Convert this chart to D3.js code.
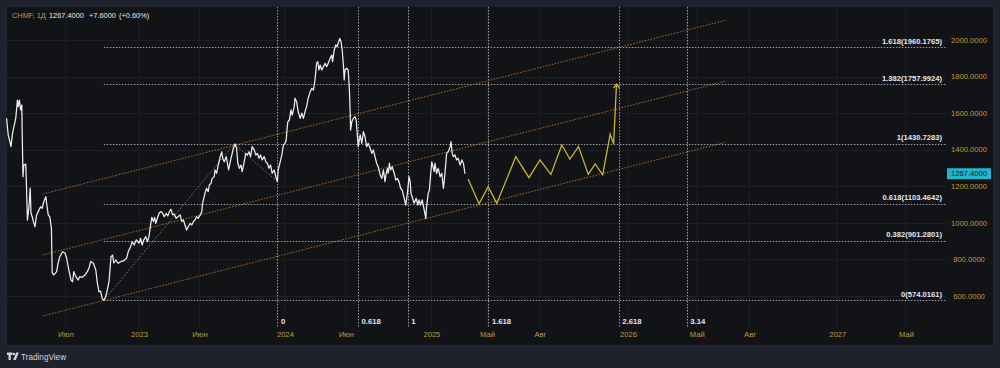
<!DOCTYPE html>
<html><head><meta charset="utf-8">
<script src="https://cdn.jsdelivr.net/npm/d3@7"></script>
<style>
html,body{margin:0;padding:0;background:#1e222d;overflow:hidden;}
svg{display:block;font-family:"Liberation Sans",Arial,sans-serif;}
</style></head><body><svg id="c" width="1000" height="368"></svg>
<script>
// ---------------- DATA ----------------
const ticker = "CHMF, 1Д";
const lastPrice = 1267.4;
const lastChange = 7.6;
const lastChangePct = 0.60;

const baseDate = "2023-01-01"; // price days are offsets (calendar days) from this date
const priceDays = [-331,-327,-320,-316,-310,-308,-304,-302,-299,-296,
-293,-292,-290,-288,-283,-281,-279,-275,-272,-270,
-267,-264,-260,-256,-252,-246,-242,-238,-233,-231,
-227,-223,-219,-217,-213,-206,-202,-198,-191,-185,
-181,-177,-170,-166,-163,-158,-152,-148,-142,-135,
-129,-124,-121,-114,-108,-104,-100,-96,-92,-88,
-85,-81,-75,-70,-66,-63,-58,-52,-46,-39,
-31,-27,-21,-17,-12,-7,-3,0,4,8,
12,17,21,25,29,32,36,39,42,47,
51,55,59,63,68,72,76,80,84,88,
93,97,103,107,111,115,119,123,128,132,
136,140,144,148,153,157,159,163,166,169,
173,176,180,183,188,190,194,198,203,207,
209,213,218,221,224,228,232,236,240,244,
247,251,255,258,263,267,271,275,279,283,
288,292,296,300,304,308,313,317,321,325,
329,333,338,342,346,348,353,357,361,365,
368,370,372,376,380,383,388,390,394,398,
403,407,411,415,419,423,428,432,436,440,
444,447,450,453,457,461,465,469,473,478,
482,484,488,492,495,498,502,505,508,511,
513,515,519,523,526,528,529,532,536,540,
543,548,553,557,561,565,569,573,578,582,
586,590,594,598,603,607,611,615,618,621,
623,626,629,633,638,642,646,650,654,658,
663,667,671,675,678,680,684,688,693,697,
700,704,708,713,717,719,723,726,729,732,
734,738,740,744,748,753,757,761,763,767,
769,773,778,780,783,786,790,794,798,803,
807,811,815];
const priceValues = [1571,1480,1416,1491,1552,1573,1671,1635,1671,1617,
1644,1491,1251,1315,1320,1178,1014,1087,1189,1052,
1032,1005,977,1042,1060,1087,1078,1114,1142,1107,
1042,1032,970,724,713,731,779,813,840,833,
806,758,685,676,731,704,685,704,700,713,
731,758,786,777,740,667,621,625,585,574,
585,613,676,813,822,779,795,777,786,790,
804,840,868,895,877,905,895,887,914,877,
905,923,895,923,987,1029,1005,1029,996,1032,
1054,1060,1051,1032,1051,1036,1060,1073,1042,1047,
1023,1032,1042,1005,1014,987,959,977,996,987,
1005,1014,1032,1023,1042,1060,1106,1142,1169,1188,
1169,1206,1215,1242,1251,1288,1270,1315,1361,1388,
1352,1333,1361,1325,1288,1333,1370,1407,1431,1407,
1325,1297,1315,1279,1333,1379,1370,1388,1361,1416,
1398,1370,1379,1352,1370,1343,1361,1333,1325,1297,
1315,1270,1288,1251,1224,1288,1333,1370,1425,1434,
1452,1507,1552,1562,1617,1589,1635,1681,1662,1607,
1571,1599,1571,1607,1635,1681,1717,1735,1726,1781,
1872,1881,1836,1863,1836,1854,1872,1854,1872,1900,
1918,1881,1945,1973,1963,1982,2009,1991,1945,1863,
1781,1836,1845,1836,1726,1599,1507,1552,1571,1580,
1562,1416,1480,1434,1498,1470,1416,1434,1407,1379,
1398,1361,1325,1306,1261,1242,1288,1224,1270,1297,
1270,1325,1288,1306,1270,1233,1242,1224,1188,1178,
1133,1096,1160,1251,1224,1160,1133,1106,1133,1096,
1124,1096,1124,1069,1023,1087,1160,1178,1261,1333,
1315,1279,1325,1270,1297,1251,1270,1188,1224,1325,
1379,1388,1416,1443,1379,1361,1370,1343,1352,1315,
1343,1325,1267.4];

// projected path (yellow)
const projDates = ["2025-03-31","2025-04-18","2025-05-03","2025-05-18","2025-06-20","2025-07-13","2025-08-01","2025-08-20","2025-09-08","2025-09-22","2025-10-07","2025-10-24","2025-11-05","2025-11-18","2025-12-01","2025-12-07","2025-12-12"];
const projValues = [1239,1103,1197,1105,1361,1246,1343,1264,1425,1348,1416,1264,1321,1261,1485,1430,1758];

// axes
const priceTicks = [600,800,1000,1200,1400,1600,1800,2000];
const timeTickDates = ["2022-07-01","2023-01-01","2023-06-01","2024-01-01","2024-06-01","2025-01-01","2025-05-01","2025-08-01","2026-01-01","2026-05-01","2026-08-01","2027-01-01","2027-05-01"];
const timeTickLabels = ["Июл","2023","Июн","2024","Июн","2025","Май","Авг","2026","Май","Авг","2027","Май"];

// fib retracement
const fibLevels = [0,0.382,0.618,1,1.382,1.618];
const fibPrices = [574.0161,901.2801,1103.4642,1430.7283,1757.9924,1960.1765];

// trend-based fib time (A low, B high, C pullback)
const fibAnchorDates = ["2022-10-05","2023-08-27","2023-12-13"];
const fibAnchorPrices = [574.0161,1430.7283,1224];
const fibTimeRatios = [0,0.618,1,1.618,2.618,3.14];
const fibTimeLabels = ["0","0.618","1","1.618","2.618","3.14"];

// parallel channel
const channelDates = ["2022-05-06","2026-06-22"];
const channelUpper = [1156.6,2109.5];
const channelMiddle = [822.6,1775.5];
const channelLower = [488.5,1441.4];

// ---------------- DRAW ----------------
const parse = d3.utcParse("%Y-%m-%d");
const base = parse(baseDate);
const svg = d3.select("#c");
const W = 1000, H = 368;
const panel = {l:7, t:7, r:993, b:345};
const plotR = 947, plotB = 328;

const x = d3.scaleUtc()
  .domain(["2023-01-01","2025-03-26","2025-05-01","2026-01-01","2027-05-01"].map(parse))
  .range([139,465,487,628,906]);
const y = d3.scaleLinear().domain([600,2000]).range([295.6,40]);

svg.append("rect").attr("width",W).attr("height",H).attr("fill","#1e222d");
svg.append("rect").attr("x",panel.l).attr("y",panel.t).attr("width",panel.r-panel.l).attr("height",panel.b-panel.t).attr("fill","#111317");

const gridC = "#1c1f26";
svg.append("g").selectAll("line").data(timeTickDates).join("line")
  .attr("x1",d=>x(parse(d))).attr("x2",d=>x(parse(d)))
  .attr("y1",panel.t).attr("y2",plotB).attr("stroke",gridC).attr("stroke-width",1);
svg.append("g").selectAll("line").data(priceTicks).join("line")
  .attr("x1",panel.l).attr("x2",plotR)
  .attr("y1",d=>Math.round(y(d))+0.5).attr("y2",d=>Math.round(y(d))+0.5).attr("stroke",gridC).attr("stroke-width",1);

const gold = "#c29a37";
const yAxis = d3.axisRight(y).tickValues(priceTicks).tickFormat(d3.format(".4f")).tickSize(0).tickPadding(0);
const ya = svg.append("g").attr("transform",`translate(969,0)`).call(yAxis);
ya.select(".domain").remove();
ya.selectAll("text").attr("fill",gold).attr("font-size",7.6).attr("text-anchor","middle").attr("font-family","Liberation Sans, Arial, sans-serif");

const xAxis = d3.axisBottom(x).tickValues(timeTickDates.map(parse)).tickFormat((d,i)=>timeTickLabels[i]).tickSize(0).tickPadding(0);
const xa = svg.append("g").attr("transform",`translate(0,332)`).call(xAxis);
xa.select(".domain").remove();
xa.selectAll("text").attr("fill",gold).attr("font-size",7.6).attr("font-family","Liberation Sans, Arial, sans-serif");

// fib time zones
const xA = x(parse(fibAnchorDates[0])), xB = x(parse(fibAnchorDates[1])), xC = x(parse(fibAnchorDates[2]));
const ftx = r => xC + r*(xB - xA);
const fz = svg.append("g");
fz.selectAll("line").data(fibTimeRatios).join("line")
  .attr("x1",d=>Math.round(ftx(d))+0.5).attr("x2",d=>Math.round(ftx(d))+0.5)
  .attr("y1",panel.t).attr("y2",327)
  .attr("stroke","#9a9ca3").attr("stroke-width",1).attr("stroke-dasharray","1.5,1.5");
fz.selectAll("text").data(fibTimeRatios).join("text")
  .attr("x",d=>ftx(d)+3.5).attr("y",323.5)
  .attr("fill","#e6e7ea").attr("font-size",7.7).attr("font-weight","bold")
  .text((d,i)=>fibTimeLabels[i]);

// fib retracement levels
const fr = svg.append("g");
fr.selectAll("line").data(fibPrices).join("line")
  .attr("x1",xA).attr("x2",plotR)
  .attr("y1",d=>Math.round(y(d))+0.5).attr("y2",d=>Math.round(y(d))+0.5)
  .attr("stroke","#9a9ca3").attr("stroke-width",1).attr("stroke-dasharray","1.5,1.5");
fr.selectAll("text").data(fibPrices).join("text")
  .attr("x",942).attr("y",d=>y(d)-3.5).attr("text-anchor","end")
  .attr("fill","#e6e7ea").attr("font-size",7.6).attr("font-weight","bold")
  .text((d,i)=>`${fibLevels[i]}(${d3.format(".4f")(d)})`);

// anchor connectors
svg.append("path")
  .attr("d", d3.line()(fibAnchorDates.map((d,i)=>[x(parse(d)), y(fibAnchorPrices[i])])))
  .attr("fill","none").attr("stroke","#8a8d94").attr("stroke-width",0.8).attr("stroke-dasharray","2,1.5").attr("opacity",0.85);

// channel
const ch = svg.append("g");
[channelUpper, channelMiddle, channelLower].forEach(vals=>{
  ch.append("line")
    .attr("x1",x(parse(channelDates[0]))).attr("y1",y(vals[0]))
    .attr("x2",x(parse(channelDates[1]))).attr("y2",y(vals[1]))
    .attr("stroke","#b5691f").attr("stroke-width",1).attr("stroke-dasharray","1.5,1.5");
});

// price line
const pts = priceDays.map((d,i)=>[d3.utcDay.offset(base,d), priceValues[i]]);
svg.append("path")
  .attr("d", d3.line().x(d=>x(d[0])).y(d=>y(d[1]))(pts))
  .attr("fill","none").attr("stroke","#eeeeee").attr("stroke-width",1.25).attr("stroke-linejoin","round");

// projection
const ppts = projDates.map((d,i)=>[parse(d), projValues[i]]);
svg.append("path")
  .attr("d", d3.line().x(d=>x(d[0])).y(d=>y(d[1]))(ppts))
  .attr("fill","none").attr("stroke","#c9b42c").attr("stroke-width",1.3).attr("stroke-linejoin","miter");
const tip = ppts[ppts.length-1];
const tx = x(tip[0]), ty = y(tip[1]);
svg.append("path")
  .attr("d",`M${tx-3},${ty+4}L${tx},${ty}L${tx+3},${ty+4}`)
  .attr("fill","none").attr("stroke","#c9b42c").attr("stroke-width",1.3);

// last price label
const ly = y(lastPrice);
svg.append("rect").attr("x",947).attr("y",ly-5.5).attr("width",44).attr("height",11).attr("fill","#22b5cc");
svg.append("text").attr("x",969).attr("y",ly+2.7).attr("text-anchor","middle")
  .attr("fill","#0f1a22").attr("font-size",7.6).text(d3.format(".4f")(lastPrice));

// header
const hdrParts = [
  {t:ticker, x:12, c:gold},
  {t:d3.format(".4f")(lastPrice), x:49, c:"#e6e7ea"},
  {t:"+"+d3.format(".4f")(lastChange), x:89, c:"#e6e7ea"},
  {t:`(+${d3.format(".2f")(lastChangePct)}%)`, x:119, c:"#e6e7ea"}
];
svg.append("g").selectAll("text").data(hdrParts).join("text")
  .attr("x",d=>d.x).attr("y",18.3).attr("font-size",7.4).attr("fill",d=>d.c).text(d=>d.t);

// TradingView logo
const lg = svg.append("g").attr("fill","#d1d4dc");
lg.append("path").attr("d","M7,352.6h5.4v2.4h-1.6v5h-2.3v-5h-1.5z");
lg.append("circle").attr("cx",13.9).attr("cy",353.9).attr("r",1.25);
lg.append("path").attr("d","M16.2,352.6h2.6l-3,7.4h-2.6z");
svg.append("text").attr("x",21).attr("y",359.5).attr("fill","#d1d4dc").attr("font-size",8.2).text("TradingView");
</script></body></html>
